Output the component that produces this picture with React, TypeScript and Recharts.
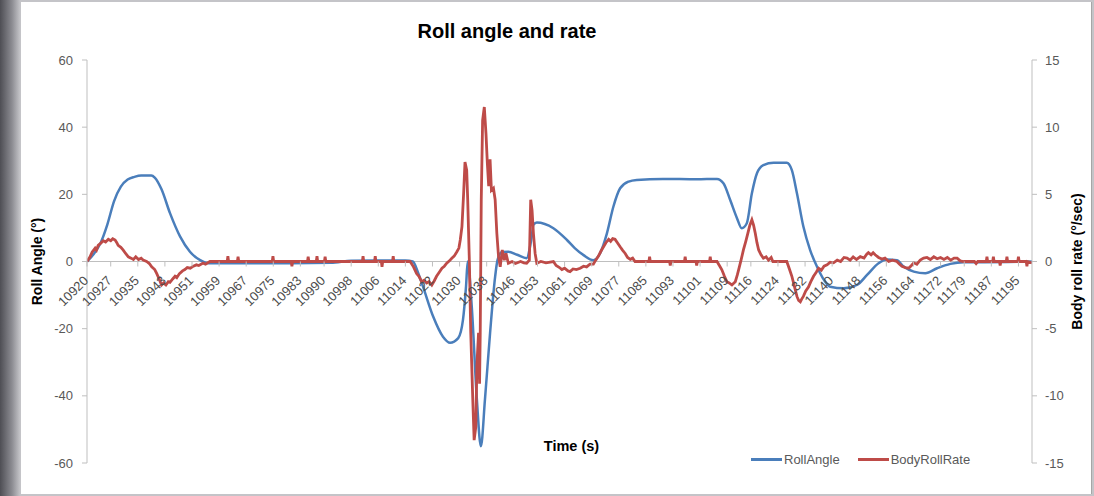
import { LineChart, Line, XAxis, YAxis, ReferenceLine, Label } from "recharts";

const FONT = '"Liberation Sans", Arial, sans-serif';
const AXIS_GREY = "#bfbfbf";
const TEXT_GREY = "#595959";
const BLUE = "#4a7ebb";
const RED = "#be4b48";
// y pixel of the 0 line (plot top 60, bottom 463) – Excel draws the category axis there
const ZERO_Y = 261.5;

const timeTicks = [
	10920, 10927, 10935, 10943, 10951, 10959, 10967, 10975, 10983, 10990, 10998, 11006,
	11014, 11022, 11030, 11038, 11046, 11053, 11061, 11069, 11077, 11085, 11093, 11101,
	11109, 11116, 11124, 11132, 11140, 11148, 11156, 11164, 11172, 11179, 11187, 11195,
];
const angleTicks = [-60, -40, -20, 0, 20, 40, 60];
const rateTicks = [-15, -10, -5, 0, 5, 10, 15];

// [time (s), roll angle (°)]
const rollAngle: [number, number][] = [
	[10920, 0], [10922, 2.2], [10924, 5.5], [10926, 11], [10928, 18], [10930, 22.3],
	[10932, 24.4], [10934, 25.2], [10936, 25.6], [10939, 25.6], [10940, 25], [10942, 21.5],
	[10944.5, 14.4], [10947.5, 7.4], [10950.4, 2.9], [10953.4, 0.4], [10956, -0.5],
	[10975, -0.5], [10992, -0.4], [10998, 0.2], [11005, 0.3], [11014, 0.3], [11016.2, 0],
	[11017.8, -3.5], [11019.2, -7.5], [11022.2, -16.4], [11025.1, -22.4], [11027.2, -24.2],
	[11029.6, -22.8], [11031, -17.4], [11031.9, -7.5], [11032.4, 0], [11033.6, -13.5],
	[11035.1, -41], [11036.3, -55], [11037.5, -41], [11039, -21.3], [11040.5, -4.5],
	[11041.2, 0.4], [11042.5, 2.8], [11044.4, 2.9], [11047, 2], [11049.8, 1], [11050.8, 4.4],
	[11051.3, 7.4], [11051.8, 10.9], [11052.8, 11.6], [11057.7, 9.9], [11061.7, 6.4],
	[11064, 4], [11066.6, 1.9], [11069.5, 0.4], [11071.5, 2.5], [11073.5, 8.4],
	[11075.4, 16.3], [11077.4, 21.8], [11079.9, 23.8], [11082.3, 24.3], [11090, 24.6],
	[11100, 24.5], [11106, 24.6], [11107.9, 23.3], [11109.9, 18.3], [11111.9, 12.9],
	[11113.3, 9.9], [11114.8, 11.4], [11116.3, 20.3], [11117.8, 26.3], [11119.7, 28.7],
	[11122.7, 29.4], [11126.6, 29.4], [11128.1, 27.2], [11129.6, 20.3], [11131.5, 10.4],
	[11133.5, 3.4], [11135.5, -1.5], [11137, -4.5], [11139.4, -7.5], [11143.4, -8],
	[11147.3, -7], [11150.3, -4], [11153.7, -0.5], [11156.2, 0.6], [11159.1, 0.4],
	[11161.1, -1.5], [11164.1, -3], [11167.5, -3.5], [11171, -2], [11174.9, -0.7],
	[11178.8, -0.2], [11185, -0.2], [11199, 0],
];

// [time (s), body roll rate (°/sec)]
const bodyRollRate: [number, number][] = [
	[10920, 0], [10920.9, 0.35], [10921.5, 0.7], [10922.4, 1.0], [10922.8, 0.85], [10923.3, 1.2],
	[10924, 1.35], [10924.8, 1.55], [10925.5, 1.45], [10926.3, 1.65], [10927, 1.55], [10927.6, 1.7],
	[10928.3, 1.6], [10928.8, 1.4], [10929.2, 1.2], [10930, 1.05], [10930.7, 0.85], [10931.4, 0.6],
	[10932.2, 0.35], [10933, 0.25], [10933.7, 0.15], [10934.4, 0.35], [10935.2, 0.15], [10936, 0.25],
	[10936.6, 0.1], [10937.6, 0], [10938.4, -0.15], [10939.1, -0.4], [10940, -0.6], [10940.6, -0.9],
	[10941.3, -1.3], [10942, -1.75], [10942.6, -1.6], [10943.3, -1.75], [10944, -1.5], [10944.5, -1.55],
	[10945.3, -1.3], [10946, -1.1], [10946.5, -1.2], [10947.3, -0.9], [10948.2, -0.7], [10948.9, -0.6],
	[10949.6, -0.45], [10950.5, -0.5], [10951.4, -0.35], [10952.3, -0.25], [10953, -0.3], [10954.3, -0.12],
	[10955, -0.2], [10956.3, 0],
	[10961.4, 0], [10961.6, 0.4], [10961.8, 0], [10964.4, 0], [10964.6, 0.35], [10964.8, 0],
	[10974.7, 0], [10974.9, 0.4], [10975.1, 0], [10980.3, 0], [10980.5, -0.35], [10980.7, 0],
	[10985.1, 0], [10985.3, 0.35], [10985.5, 0], [10987.7, 0], [10987.9, 0.4], [10988.1, 0],
	[10990.1, 0], [10990.3, 0.35], [10990.5, 0], [11001.3, 0], [11001.5, 0.4], [11001.7, 0],
	[11004.9, 0], [11005.1, 0.4], [11005.3, 0], [11006.9, 0], [11007.1, -0.4], [11007.3, 0],
	[11010.2, 0], [11010.4, 0.4], [11010.6, 0],
	[11015.4, 0], [11016.4, -0.4], [11017.3, -0.9], [11018, -1.1], [11018.8, -1.5], [11019.5, -1.4],
	[11020.3, -1.6], [11021, -1.5], [11021.8, -1.75], [11022.5, -1.45], [11023.2, -1.1], [11024, -0.8],
	[11024.8, -0.5], [11025.5, -0.35], [11026.2, -0.13], [11027, 0.05], [11027.7, 0.24], [11028.4, 0.4],
	[11029.2, 0.73], [11029.8, 1.0], [11030.2, 1.6], [11030.7, 2.6], [11031.2, 5.1], [11031.6, 7.4],
	[11032.1, 6.8], [11032.4, 4.6], [11032.9, -0.1], [11033.3, -5.3], [11033.9, -10.3], [11034.3, -13.3],
	[11034.8, -12.3], [11035.1, -7.8], [11035.6, -5.3], [11035.9, -9.1], [11036.1, -5.3], [11036.4, 4.6],
	[11036.8, 10.5], [11037.3, 11.5], [11037.8, 9.5], [11038.2, 7.3], [11038.6, 5.6], [11039, 7.6],
	[11039.4, 5.3], [11040, 5.45], [11040.5, 4.6], [11041, 2.1], [11041.5, 0.36], [11042, -0.4],
	[11042.6, 0.86], [11043.2, 0.1], [11043.7, 0.6], [11044.4, -0.13], [11045.5, 0], [11046.5, -0.15],
	[11048, 0], [11049, -0.1], [11049.8, -0.13], [11050.6, 0.1], [11051, 4.6], [11051.4, 3.8],
	[11051.8, 2.1], [11052.3, 0.6], [11052.8, -0.13], [11054, 0], [11055.5, -0.1], [11057.7, 0],
	[11058.5, -0.3], [11059.5, -0.45], [11060.2, -0.6], [11061, -0.5], [11062, -0.7], [11062.6, -0.75],
	[11063.5, -0.55], [11064.5, -0.6], [11065.6, -0.5], [11066.6, -0.35], [11067.5, -0.4], [11068.5, -0.2],
	[11069.5, -0.2], [11070.2, 0.1], [11071, 0.4], [11071.8, 0.8], [11072.5, 1.1], [11073.2, 1.4],
	[11074, 1.65], [11074.6, 1.5], [11075.2, 1.7], [11075.9, 1.65], [11076.6, 1.4], [11077.4, 1.1],
	[11078.1, 0.85], [11078.9, 0.6], [11079.6, 0.3], [11080.4, 0.16], [11081.1, 0.25], [11081.8, 0],
	[11085.9, 0], [11086.1, 0.35], [11086.3, 0], [11092, 0], [11092.2, -0.3], [11092.4, 0],
	[11096.4, 0], [11096.6, 0.35], [11096.8, 0], [11099.8, 0], [11100, -0.3], [11100.2, 0],
	[11103.8, 0], [11104, 0.35], [11104.2, 0],
	[11106, 0], [11106.7, -0.3], [11107.4, -0.6], [11108.2, -1.1], [11108.9, -1.5], [11109.6, -1.6],
	[11110.4, -1.75], [11111.4, -1.5], [11112, -1.0], [11112.4, -0.6], [11113.1, 0.1], [11113.8, 0.86],
	[11114.5, 1.5], [11115.1, 2.1], [11115.7, 2.7], [11116.3, 3.1], [11116.8, 2.7], [11117.3, 2.1],
	[11117.8, 1.4], [11118.3, 0.86], [11119, 0.5], [11119.7, 0.24], [11120.5, 0.35], [11121.2, 0.1],
	[11122, 0.3], [11122.5, 0], [11126.6, 0], [11127.3, -0.5], [11128.1, -1.1], [11128.8, -1.8],
	[11129.6, -2.6], [11130.1, -2.9], [11130.6, -3.0], [11131, -2.8], [11131.5, -2.6], [11132.2, -2.2],
	[11133, -1.9], [11133.7, -1.5], [11134.5, -1.1], [11135.3, -0.8], [11136, -0.5], [11136.8, -0.65],
	[11137.6, -0.35], [11138.5, -0.25], [11139.4, -0.05], [11140.4, -0.1], [11141.5, 0.1], [11142.5, 0],
	[11143.5, 0.3], [11144.4, 0.25], [11145.3, 0.1], [11146.2, 0.35], [11147.2, 0.15], [11148.3, 0.36],
	[11149.4, 0.25], [11150.2, 0.55], [11150.7, 0.66], [11151.5, 0.5], [11152.1, 0.65], [11152.7, 0.5],
	[11153.7, 0.3], [11154.7, 0.18], [11155.6, 0.25], [11156.7, 0], [11157.8, 0.1], [11159.1, 0],
	[11159.9, -0.2], [11160.6, -0.36], [11161.6, -0.45], [11162.6, -0.5], [11163.4, -0.3], [11164.1, -0.1],
	[11165, -0.2], [11166, 0.1], [11167, 0.25], [11168, 0.3], [11169, 0.15], [11170, 0.35],
	[11171, 0.2], [11172, 0.3], [11173, 0.15], [11174, 0.3], [11175, 0.1], [11176, 0.25],
	[11176.9, 0.25], [11177.8, 0.05], [11178.8, 0], [11182, 0], [11182.5, -0.15], [11183, 0],
	[11185.5, 0], [11185.7, 0.35], [11185.9, 0], [11187.4, 0], [11187.6, 0.35], [11187.8, 0],
	[11189.4, 0], [11189.6, -0.3], [11189.8, 0], [11191.4, 0], [11191.6, 0.35], [11191.8, 0],
	[11194.8, 0], [11195, 0.35], [11195.2, 0], [11197.3, 0], [11197.5, -0.35], [11197.7, 0],
	[11199, -0.1],
];

const angleData = rollAngle.map(([t, v]) => ({ t, v }));
const rateData = bodyRollRate.map(([t, v]) => ({ t, v }));

/** Rotated category label hung under the zero line, Excel style. */
function TimeTick(props: any) {
	const { x, payload } = props;
	return (
		<g transform={`translate(${x},${ZERO_Y})`}>
			<line x1={0} y1={0} x2={0} y2={5} stroke={AXIS_GREY} />
			<text
				transform="translate(2,20) rotate(-45)"
				textAnchor="end"
				fontSize={13}
				fontFamily={FONT}
				fill="#4d4d4d"
			>
				{payload.value}
			</text>
		</g>
	);
}

function LegendBox() {
	const item = (color: string, text: string) => (
		<span style={{ display: "inline-flex", alignItems: "center", marginRight: 18 }}>
			<span style={{ display: "inline-block", width: 31, height: 3, background: color, marginRight: 2 }} />
			<span>{text}</span>
		</span>
	);
	return (
		<div
			style={{
				position: "absolute",
				left: 751,
				top: 449,
				fontFamily: FONT,
				fontSize: 13,
				color: TEXT_GREY,
				whiteSpace: "nowrap",
			}}
		>
			{item(BLUE, "RollAngle")}
			{item(RED, "BodyRollRate")}
		</div>
	);
}

export default function App() {
	return (
		<div
			style={{
				position: "absolute",
				left: 0,
				top: 0,
				width: 1094,
				height: 496,
				background: "linear-gradient(to right, #4e4e54 0px, #8c8c92 12px, #c4c4c8 20px)",
				overflow: "hidden",
			}}
		>
			<div
				style={{
					position: "absolute",
					left: 21,
					top: 2,
					width: 1070,
					height: 492,
					background: "#ffffff",
					borderRight: "1px solid #a6a6a6",
				}}
			/>
			<div
				style={{
					position: "absolute",
					left: 0,
					top: 20,
					width: 1014,
					textAlign: "center",
					fontFamily: FONT,
					fontWeight: 700,
					fontSize: 20,
					color: "#000000",
				}}
			>
				Roll angle and rate
			</div>
			<div style={{ position: "absolute", left: 0, top: 0 }}>
				<LineChart width={1094} height={496} margin={{ top: 60, right: 0, bottom: 0, left: 0 }}>
					<XAxis
						dataKey="t"
						type="number"
						domain={[10920, 11199]}
						ticks={timeTicks}
						interval={0}
						allowDataOverflow
						axisLine={false}
						tickLine={false}
						height={33}
						tick={<TimeTick />}
					>
						<Label
							value="Time (s)"
							position="center"
							dx={12}
							dy={-34}
							style={{ fontFamily: FONT, fontWeight: 700, fontSize: 14.5, fill: "#000000" }}
						/>
					</XAxis>
					<YAxis
						yAxisId="left"
						width={87}
						domain={[-60, 60]}
						ticks={angleTicks}
						interval={0}
						tickSize={5}
						tickMargin={9}
						axisLine={{ stroke: AXIS_GREY }}
						tickLine={{ stroke: AXIS_GREY }}
						tick={{ fontSize: 13, fontFamily: FONT, fill: TEXT_GREY }}
					>
						<Label
							value="Roll Angle (°)"
							angle={-90}
							position="center"
							dx={-6}
							style={{ fontFamily: FONT, fontWeight: 700, fontSize: 14, fill: "#000000" }}
						/>
					</YAxis>
					<YAxis
						yAxisId="right"
						orientation="right"
						width={62}
						domain={[-15, 15]}
						ticks={rateTicks}
						interval={0}
						tickSize={5}
						tickMargin={8}
						axisLine={{ stroke: AXIS_GREY }}
						tickLine={{ stroke: AXIS_GREY }}
						tick={{ fontSize: 13, fontFamily: FONT, fill: TEXT_GREY }}
					>
						<Label
							value="Body roll rate (°/sec)"
							angle={-90}
							position="center"
							dx={14}
							style={{ fontFamily: FONT, fontWeight: 700, fontSize: 14, fill: "#000000" }}
						/>
					</YAxis>
					<ReferenceLine yAxisId="left" y={0} stroke={AXIS_GREY} />
					<Line
						yAxisId="left"
						data={angleData}
						dataKey="v"
						name="RollAngle"
						type="monotone"
						stroke={BLUE}
						strokeWidth={2.5}
						dot={false}
						isAnimationActive={false}
					/>
					<Line
						yAxisId="right"
						data={rateData}
						dataKey="v"
						name="BodyRollRate"
						type="linear"
						stroke={RED}
						strokeWidth={2.8}
						dot={false}
						isAnimationActive={false}
					/>
				</LineChart>
			</div>
			<LegendBox />
		</div>
	);
}
